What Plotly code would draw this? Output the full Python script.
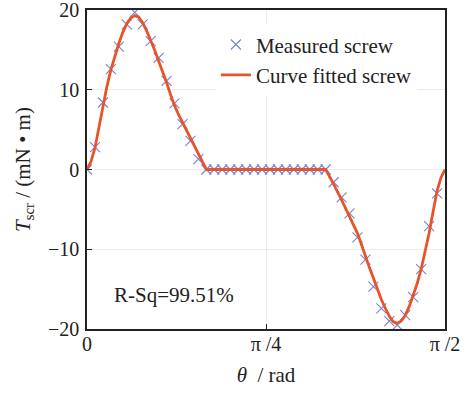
import plotly.graph_objects as go

# Rotor angle in degrees (0 .. 90 deg = 0 .. pi/2 rad)
theta_measured = [0, 2, 4, 6, 8, 10, 12, 14, 16, 18, 20, 22, 24, 26, 28,
                  30, 32, 34, 36, 38, 40, 42, 44, 46, 48, 50, 52, 54, 56, 58,
                  60, 62, 64, 66, 68, 70, 72, 74, 76, 78, 80, 82, 84, 86, 88]
torque_measured = [0, 2.8, 8.4, 12.6, 15.4, 18.2, 19.7, 18.2, 16.1, 14.0, 11.1, 8.3, 5.7, 3.6, 1.3,
                   0, 0, 0, 0, 0, 0, 0, 0, 0, 0, 0, 0, 0, 0, 0,
                   0, -1.6, -3.5, -5.5, -8.5, -11.3, -14.7, -17.4, -19.0, -19.5, -18.25, -16.0, -12.5, -7.1, -3.0]

theta_fit = list(range(0, 91))
torque_fit = [0, 1.0, 2.7, 5.3, 8.0, 10.4, 12.5, 14.3, 15.8, 17.2,
              18.3, 19.0, 19.3, 19.1, 18.4, 17.4, 16.3, 15.0, 13.6, 12.3,
              10.9, 9.4, 8.0, 6.9, 5.9, 4.8, 3.8, 2.8, 1.8, 0.9,
              0, 0, 0, 0, 0, 0, 0, 0, 0, 0,
              0, 0, 0, 0, 0, 0, 0, 0, 0, 0,
              0, 0, 0, 0, 0, 0, 0, 0, 0, 0,
              0, -0.9, -1.8, -2.8, -3.8, -4.8, -5.9, -6.9, -8.0, -9.4,
              -10.9, -12.3, -13.6, -15.0, -16.3, -17.4, -18.4, -19.1, -19.3, -19.0,
              -18.3, -17.2, -15.8, -14.3, -12.5, -10.4, -8.0, -5.3, -2.7, -1.0,
              0]

tick_vals = [0, 45, 90]
tick_text = ["0", "π /4", "π /2"]
r_sq_text = "R-Sq=99.51%"

FONT = "Liberation Serif, Times New Roman, serif"
INK = "#222"

fig = go.Figure()
fig.add_trace(go.Scatter(
    x=theta_measured, y=torque_measured, mode="markers", name="Measured screw",
    marker=dict(symbol="x-thin", size=10, line=dict(width=1.1, color="#7b80d6"), color="#7b80d6"),
))
fig.add_trace(go.Scatter(
    x=theta_fit, y=torque_fit, mode="lines", name="Curve fitted screw",
    line=dict(color="#e6542a", width=2.8),
))

fig.add_annotation(x=0.07, xref="paper", y=-15.75, yref="y", text=r_sq_text,
                   showarrow=False, xanchor="left", yanchor="middle",
                   font=dict(family=FONT, size=21, color=INK))

axis_common = dict(showline=True, linecolor=INK, linewidth=1.6, mirror=True,
                   ticks="inside", ticklen=5, tickcolor=INK, tickwidth=1.4,
                   showgrid=True, gridcolor="#ececec", gridwidth=1, zeroline=False,
                   automargin=False, ticklabeloverflow="allow",
                   tickfont=dict(family=FONT, size=20, color=INK))

fig.update_xaxes(range=[0, 90], tickvals=tick_vals, ticktext=tick_text,
                 ticklabelstandoff=-4,
                 title=dict(text="<i>θ</i>  / rad", font=dict(family=FONT, size=21, color=INK), standoff=14),
                 **axis_common)
fig.update_yaxes(range=[-20, 20], tickvals=[-20, -10, 0, 10, 20],
                 ticklabelstandoff=2,
                 title=dict(text="<i>T</i><sub>scr</sub> / (mN • m)", font=dict(family=FONT, size=21, color=INK), standoff=12),
                 **axis_common)

fig.update_layout(
    width=474, height=397,
    margin=dict(l=87, r=29, t=10, b=68),
    paper_bgcolor="white", plot_bgcolor="white",
    showlegend=True,
    legend=dict(x=0.36, y=0.955, xanchor="left", yanchor="top", bgcolor="white",
                borderwidth=0, font=dict(family=FONT, size=21, color=INK),
                itemwidth=30, tracegroupgap=0),
)

fig.write_html("out.html")
